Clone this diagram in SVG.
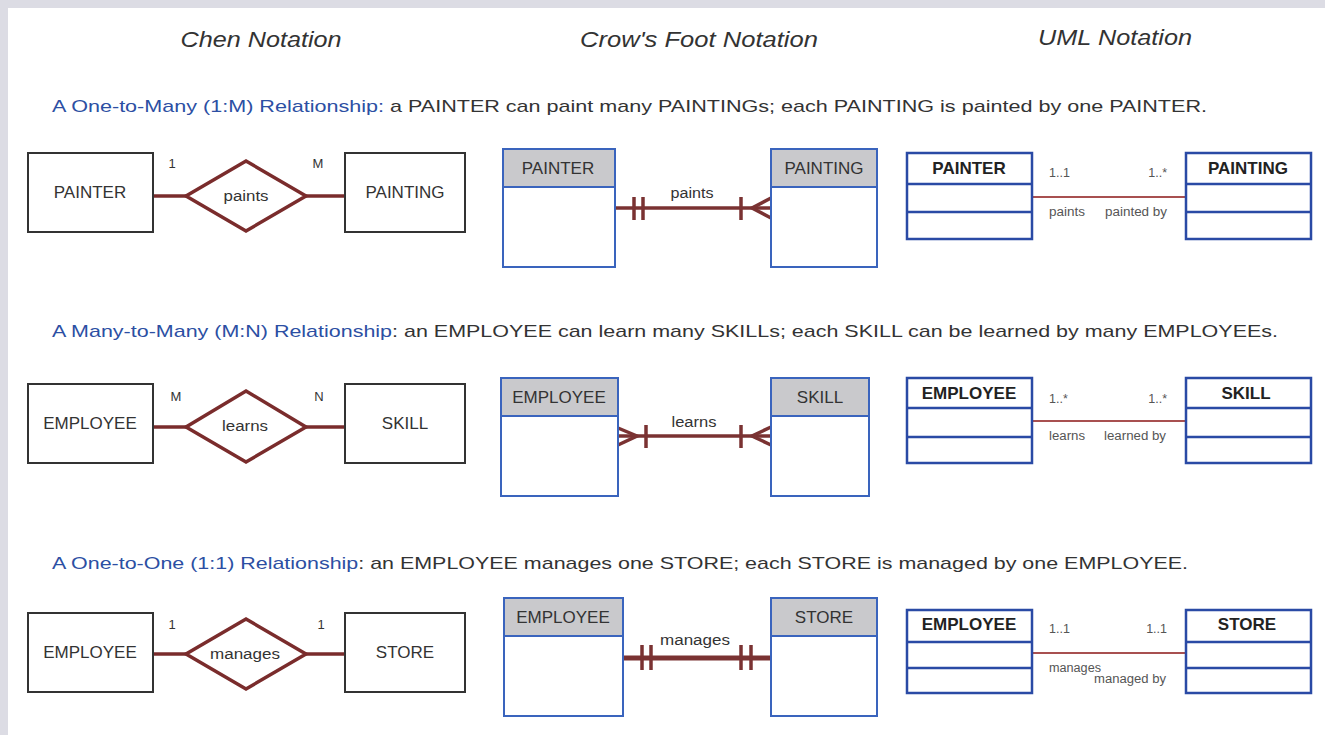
<svg xmlns="http://www.w3.org/2000/svg" width="1325" height="735" viewBox="0 0 1325 735">
<style>
text{font-family:"Liberation Sans",Arial,sans-serif;fill:#333}
.hdr{font-size:22px;font-style:italic;text-anchor:middle;fill:#333}
.sub{font-size:17px}
.blue{fill:#2c4fa3}
.ent{fill:#fff;stroke:#333;stroke-width:2}
.ctext{font-size:17px;text-anchor:middle}
.card{font-size:13px;text-anchor:middle}
.dia{fill:#fff;stroke:#7a2c2c;stroke-width:3.5;stroke-linejoin:miter}
.rel{stroke:#7a2c2c;stroke-width:3.5;fill:none}
.rlab{font-size:14px;text-anchor:middle}
.cbox{fill:#fff;stroke:#3a64bd;stroke-width:2}
.chead{fill:#c9c9cc;stroke:#3a64bd;stroke-width:2}
.cftext{font-size:17px;text-anchor:middle}
.cfline{stroke:#7a3232;stroke-width:3.5;fill:none}
.ubox{fill:#fff;stroke:#2a4aa5;stroke-width:2.5}
.uline{stroke:#2a4aa5;stroke-width:2.5}
.utext{font-size:17px;font-weight:bold;text-anchor:middle;fill:#222}
.uassoc{stroke:#a85050;stroke-width:2}
.small{font-size:12.5px;fill:#555}
</style>
<rect x="0" y="0" width="1325" height="735" fill="#dcdce4"/>
<rect x="8" y="8" width="1317" height="727" fill="#fff"/>

<g id="headers">
<text class="hdr" x="261" y="47" textLength="161" lengthAdjust="spacingAndGlyphs">Chen Notation</text>
<text class="hdr" x="699" y="47" textLength="238" lengthAdjust="spacingAndGlyphs">Crow's Foot Notation</text>
<text class="hdr" x="1115" y="45" textLength="154" lengthAdjust="spacingAndGlyphs">UML Notation</text>
</g>

<g id="subtitles">
<text class="sub" x="52" y="112" textLength="1155" lengthAdjust="spacingAndGlyphs"><tspan class="blue">A One-to-Many (1:M) Relationship:</tspan> a PAINTER can paint many PAINTINGs; each PAINTING is painted by one PAINTER.</text>
<text class="sub" x="52" y="337" textLength="1226" lengthAdjust="spacingAndGlyphs"><tspan class="blue">A Many-to-Many (M:N) Relationship</tspan>: an EMPLOYEE can learn many SKILLs; each SKILL can be learned by many EMPLOYEEs.</text>
<text class="sub" x="52" y="569" textLength="1136" lengthAdjust="spacingAndGlyphs"><tspan class="blue">A One-to-One (1:1) Relationship</tspan>: an EMPLOYEE manages one STORE; each STORE is managed by one EMPLOYEE.</text>
</g>

<g id="connectors">
<!-- Chen -->
<line class="rel" x1="153" y1="196" x2="186" y2="196"/>
<line class="rel" x1="306" y1="196" x2="345" y2="196"/>
<line class="rel" x1="153" y1="427" x2="186" y2="427"/>
<line class="rel" x1="306" y1="427" x2="345" y2="427"/>
<line class="rel" x1="153" y1="654" x2="186" y2="654"/>
<line class="rel" x1="306" y1="654" x2="345" y2="654"/>
<!-- Crow's foot row 1 -->
<line class="cfline" x1="615" y1="208" x2="771" y2="208"/>
<line class="cfline" x1="634" y1="197" x2="634" y2="220"/>
<line class="cfline" x1="643" y1="197" x2="643" y2="220"/>
<line class="cfline" x1="741" y1="197" x2="741" y2="220"/>
<polyline class="cfline" points="771,198 752,208 771,218"/>
<!-- Crow's foot row 2 -->
<line class="cfline" x1="618" y1="436" x2="771" y2="436"/>
<polyline class="cfline" points="618,428 637,436 618,445"/>
<line class="cfline" x1="646" y1="425" x2="646" y2="448"/>
<line class="cfline" x1="741" y1="425" x2="741" y2="448"/>
<polyline class="cfline" points="771,427 752,436 771,445"/>
<!-- Crow's foot row 3 -->
<line class="cfline" x1="623" y1="658" x2="771" y2="658" style="stroke-width:5"/>
<line class="cfline" x1="642" y1="645" x2="642" y2="670"/>
<line class="cfline" x1="651" y1="645" x2="651" y2="670"/>
<line class="cfline" x1="741" y1="645" x2="741" y2="670"/>
<line class="cfline" x1="751" y1="645" x2="751" y2="670"/>
<!-- UML -->
<line class="uassoc" x1="1032" y1="197" x2="1186" y2="197"/>
<line class="uassoc" x1="1032" y1="421" x2="1186" y2="421"/>
<line class="uassoc" x1="1032" y1="653" x2="1186" y2="653"/>
</g>

<g id="connector-labels">
<text class="card" x="172" y="168">1</text>
<text class="card" x="318" y="168">M</text>
<text class="card" x="176" y="401">M</text>
<text class="card" x="319" y="401">N</text>
<text class="card" x="172" y="629">1</text>
<text class="card" x="321" y="629">1</text>
<text class="rlab" x="692" y="198" textLength="43" lengthAdjust="spacingAndGlyphs">paints</text>
<text class="rlab" x="694" y="427" textLength="45" lengthAdjust="spacingAndGlyphs">learns</text>
<text class="rlab" x="695" y="645" textLength="70" lengthAdjust="spacingAndGlyphs">manages</text>
<text class="small" x="1049" y="177">1..1</text>
<text class="small" x="1167" y="177" text-anchor="end">1..*</text>
<text class="small" x="1049" y="216" textLength="36" lengthAdjust="spacingAndGlyphs">paints</text>
<text class="small" x="1105" y="216" textLength="62" lengthAdjust="spacingAndGlyphs">painted by</text>
<text class="small" x="1049" y="403">1..*</text>
<text class="small" x="1167" y="403" text-anchor="end">1..*</text>
<text class="small" x="1049" y="440" textLength="36" lengthAdjust="spacingAndGlyphs">learns</text>
<text class="small" x="1104" y="440" textLength="62" lengthAdjust="spacingAndGlyphs">learned by</text>
<text class="small" x="1049" y="633">1..1</text>
<text class="small" x="1167" y="633" text-anchor="end">1..1</text>
<text class="small" x="1049" y="672" textLength="52" lengthAdjust="spacingAndGlyphs">manages</text>
<text class="small" x="1094" y="683" textLength="72" lengthAdjust="spacingAndGlyphs">managed by</text>
</g>

<!-- Chen nodes -->
<g id="chen-painter"><rect class="ent" x="28" y="153" width="125" height="79"/><text class="ctext" x="90" y="198">PAINTER</text></g>
<g id="chen-paints"><polygon class="dia" points="246,161 306,196 246,231 186,196"/><text class="rlab" x="246" y="201" textLength="45" lengthAdjust="spacingAndGlyphs">paints</text></g>
<g id="chen-painting"><rect class="ent" x="345" y="153" width="120" height="79"/><text class="ctext" x="405" y="198">PAINTING</text></g>

<g id="chen-employee1"><rect class="ent" x="28" y="384" width="125" height="79"/><text class="ctext" x="90" y="429">EMPLOYEE</text></g>
<g id="chen-learns"><polygon class="dia" points="246,391 306,427 246,462 186,427"/><text class="rlab" x="245" y="431" textLength="46" lengthAdjust="spacingAndGlyphs">learns</text></g>
<g id="chen-skill"><rect class="ent" x="345" y="384" width="120" height="79"/><text class="ctext" x="405" y="429">SKILL</text></g>

<g id="chen-employee2"><rect class="ent" x="28" y="613" width="125" height="79"/><text class="ctext" x="90" y="658">EMPLOYEE</text></g>
<g id="chen-manages"><polygon class="dia" points="246,619 306,654 246,689 186,654"/><text class="rlab" x="245" y="659" textLength="70" lengthAdjust="spacingAndGlyphs">manages</text></g>
<g id="chen-store"><rect class="ent" x="345" y="613" width="120" height="79"/><text class="ctext" x="405" y="658">STORE</text></g>

<!-- Crow's foot nodes -->
<g id="cf-painter"><rect class="cbox" x="503" y="149" width="112" height="118"/><rect class="chead" x="503" y="149" width="112" height="38"/><text class="cftext" x="558" y="174">PAINTER</text></g>
<g id="cf-painting"><rect class="cbox" x="771" y="149" width="106" height="118"/><rect class="chead" x="771" y="149" width="106" height="38"/><text class="cftext" x="824" y="174">PAINTING</text></g>
<g id="cf-employee1"><rect class="cbox" x="501" y="378" width="117" height="118"/><rect class="chead" x="501" y="378" width="117" height="38"/><text class="cftext" x="559" y="403">EMPLOYEE</text></g>
<g id="cf-skill"><rect class="cbox" x="771" y="378" width="98" height="118"/><rect class="chead" x="771" y="378" width="98" height="38"/><text class="cftext" x="820" y="403">SKILL</text></g>
<g id="cf-employee2"><rect class="cbox" x="504" y="598" width="119" height="118"/><rect class="chead" x="504" y="598" width="119" height="38"/><text class="cftext" x="563" y="623">EMPLOYEE</text></g>
<g id="cf-store"><rect class="cbox" x="771" y="598" width="106" height="118"/><rect class="chead" x="771" y="598" width="106" height="38"/><text class="cftext" x="824" y="623">STORE</text></g>

<!-- UML nodes -->
<g id="uml-painter"><rect class="ubox" x="907" y="153" width="125" height="86"/><line class="uline" x1="907" y1="184" x2="1032" y2="184"/><line class="uline" x1="907" y1="212" x2="1032" y2="212"/><text class="utext" x="969" y="174">PAINTER</text></g>
<g id="uml-painting"><rect class="ubox" x="1186" y="153" width="125" height="86"/><line class="uline" x1="1186" y1="184" x2="1311" y2="184"/><line class="uline" x1="1186" y1="212" x2="1311" y2="212"/><text class="utext" x="1248" y="174">PAINTING</text></g>
<g id="uml-employee1"><rect class="ubox" x="907" y="378" width="125" height="85"/><line class="uline" x1="907" y1="408" x2="1032" y2="408"/><line class="uline" x1="907" y1="437" x2="1032" y2="437"/><text class="utext" x="969" y="399">EMPLOYEE</text></g>
<g id="uml-skill"><rect class="ubox" x="1186" y="378" width="125" height="85"/><line class="uline" x1="1186" y1="408" x2="1311" y2="408"/><line class="uline" x1="1186" y1="437" x2="1311" y2="437"/><text class="utext" x="1246" y="399">SKILL</text></g>
<g id="uml-employee2"><rect class="ubox" x="907" y="610" width="125" height="83"/><line class="uline" x1="907" y1="642" x2="1032" y2="642"/><line class="uline" x1="907" y1="668" x2="1032" y2="668"/><text class="utext" x="969" y="630">EMPLOYEE</text></g>
<g id="uml-store"><rect class="ubox" x="1186" y="610" width="125" height="83"/><line class="uline" x1="1186" y1="642" x2="1311" y2="642"/><line class="uline" x1="1186" y1="668" x2="1311" y2="668"/><text class="utext" x="1247" y="630">STORE</text></g>
</svg>
